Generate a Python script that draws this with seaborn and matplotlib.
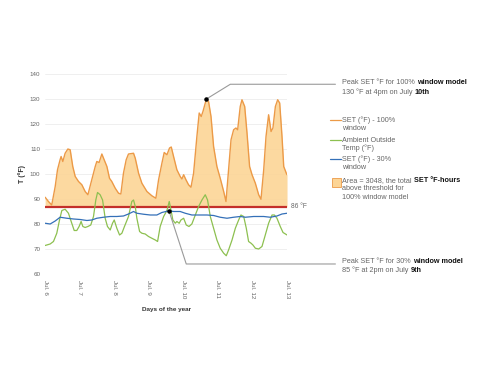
import numpy as np
import matplotlib
matplotlib.use("Agg")
import matplotlib.pyplot as plt
import matplotlib.patches as mpatches
from matplotlib.lines import Line2D
import seaborn as sns

# hours since Jul 6 00:00 and temperatures (°F)
HOURS_100 = [0, 2.3, 4.6, 7.0, 8.6, 10.4, 11.1, 12.3, 13.9, 15.8, 17.4, 19.2, 20.9, 23.2,
             25.5, 27.8, 29.7, 32.4, 34.8, 35.9, 37.5, 39.4, 41.0, 42.9, 44.7, 46.3, 48.7,
             51.0, 52.6, 54.4, 56.3, 57.9, 61.4, 62.6, 64.9, 67.2, 70.7, 74.1, 76.9, 78.8,
             81.1, 82.7, 84.6, 86.4, 87.6, 89.2, 91.5, 93.8, 95.0, 96.2, 97.8, 99.6, 101.3,
             103.1, 105.4, 107.0, 108.4, 109.6, 112.0, 113.5, 115.2, 117.0, 119.3, 121.6,
             124.0, 125.6, 127.4, 129.1, 130.9, 132.5, 133.7, 135.5, 136.7, 138.6, 140.2,
             142.0, 143.7, 146.0, 148.3, 149.9, 151.8, 153.4, 155.2, 156.9, 158.2, 159.9,
             161.5, 162.9, 164.5, 165.7, 167.5, 168]
SET_100 = [90.7, 89.0, 87.6, 95.0, 101.7, 105.7, 107.0, 105.0, 108.3, 110.0, 109.7, 103.0,
           99.0, 97.0, 95.7, 93.0, 91.7, 97.7, 103.0, 105.0, 104.6, 108.0, 105.7, 103.0, 98.3,
           97.0, 94.3, 92.3, 92.0, 100.3, 105.7, 108.0, 108.3, 106.3, 100.3, 96.3, 93.0, 91.3,
           90.3, 97.7, 104.3, 108.6, 107.7, 110.4, 110.8, 107.0, 101.7, 99.0, 98.0, 99.7,
           97.7, 95.7, 94.7, 100.3, 115.0, 124.4, 123.0, 125.0, 130.0, 129.0, 123.0, 111.0,
           103.0, 98.3, 93.0, 89.0, 101.7, 113.7, 117.7, 118.4, 117.7, 127.0, 129.7, 127.0,
           116.4, 103.0, 99.7, 96.3, 91.7, 89.9, 101.7, 115.0, 123.7, 117.0, 118.4, 127.0,
           129.7, 128.4, 115.0, 103.0, 100.3, 99.7]

HOURS_AMB = [0, 3.5, 5.8, 8.1, 10.0, 11.6, 13.9, 16.2, 18.5, 20.2, 22.0, 23.6, 25.0, 26.2,
             27.8, 29.7, 31.7, 33.6, 35.2, 36.4, 38.2, 39.9, 41.7, 43.3, 45.2, 46.8, 48.0,
             49.8, 51.7, 53.3, 55.1, 57.9, 60.2, 61.4, 62.6, 63.7, 65.6, 67.2, 69.5, 71.8,
             74.1, 76.5, 78.1, 79.9, 82.3, 84.6, 86.2, 87.4, 88.7, 90.4, 91.5, 93.1, 94.3,
             96.2, 98.0, 99.9, 101.9, 104.3, 106.6, 108.9, 111.2, 112.8, 114.7, 117.0, 119.3,
             121.6, 124.0, 125.8, 127.4, 129.8, 132.1, 134.4, 136.0, 137.9, 139.7, 141.3,
             143.0, 144.3, 146.0, 148.3, 150.6, 152.9, 155.2, 157.6, 159.2, 161.0, 163.3,
             165.2, 168]
AMBIENT = [71.4, 72.0, 73.0, 76.3, 81.6, 85.4, 85.9, 84.3, 80.3, 77.4, 77.4, 79.0, 81.0,
           79.0, 78.6, 79.0, 79.6, 83.0, 89.6, 92.6, 91.7, 89.6, 82.3, 79.0, 77.6, 80.3, 81.6,
           78.3, 75.6, 76.3, 79.0, 83.0, 89.0, 89.6, 87.0, 82.3, 77.0, 76.3, 76.0, 75.0, 74.3,
           73.6, 73.0, 79.0, 83.0, 85.4, 89.0, 85.6, 81.6, 80.3, 81.0, 80.3, 81.6, 82.3, 79.6,
           79.0, 80.0, 83.6, 87.0, 89.6, 91.7, 89.6, 83.0, 78.3, 73.6, 70.3, 68.3, 67.3, 69.6,
           73.6, 78.3, 81.6, 83.6, 83.0, 78.3, 73.0, 72.3, 71.6, 70.3, 70.0, 71.0, 75.6, 80.3,
           83.6, 83.6, 82.3, 79.0, 76.6, 75.6]

HOURS_30 = [0, 3.5, 7.0, 10.4, 15.1, 19.7, 24.3, 29.0, 32.4, 35.9, 40.5, 45.2, 49.8, 54.4,
            57.9, 61.4, 63.7, 68.4, 73.0, 77.6, 81.1, 86.0, 89.2, 93.8, 97.3, 101.9, 107.7,
            112.4, 117.0, 121.6, 126.3, 130.9, 135.5, 139.0, 144.8, 151.8, 156.4, 161.0,
            164.5, 168]
SET_30 = [80.3, 80.0, 81.2, 82.7, 82.3, 82.0, 81.8, 81.4, 81.6, 82.3, 82.7, 83.0, 83.0, 83.2,
          84.0, 85.0, 84.3, 83.9, 83.6, 83.6, 84.6, 85.3, 85.0, 85.0, 84.3, 83.6, 83.6, 83.6,
          83.4, 82.7, 82.3, 82.7, 83.0, 82.7, 83.0, 83.0, 82.7, 83.2, 84.0, 84.3]

THRESHOLD = 86.8
PEAK_100 = (112, 130)
PEAK_30 = (86, 85.3)

DAY_TICKS = [0, 24, 48, 72, 96, 120, 144, 168]
DAY_LABELS = ["Jul. 6", "Jul. 7", "Jul. 8", "Jul. 9", "Jul. 10", "Jul. 11", "Jul. 12", "Jul. 13"]
Y_TICKS = [60, 70, 80, 90, 100, 110, 120, 130, 140]

C_ORANGE = "#EC9A47"
C_FILL = "#FCD596"
C_GREEN = "#8DC050"
C_BLUE = "#3470B8"
C_RED = "#C4302B"
C_TEXT = "#666666"

sns.set_style("white")
plt.rcParams["font.family"] = ["Liberation Sans", "DejaVu Sans"]

fig = plt.figure(figsize=(4.8, 3.71), dpi=100)
ax = fig.add_axes([0.094, 0.2615, 0.504, 0.539])

h100 = np.array(HOURS_100)
s100 = np.array(SET_100)
ax.fill_between(h100, THRESHOLD, s100, where=s100 >= THRESHOLD, interpolate=True,
                color=C_FILL, alpha=0.9, lw=0, zorder=1)

for yv in Y_TICKS:
    ax.axhline(yv, color="#EDEDED", lw=0.6, zorder=0)

ax.axhline(THRESHOLD, color=C_RED, lw=1.6, zorder=2)
sns.lineplot(x=HOURS_100, y=SET_100, ax=ax, color=C_ORANGE, lw=1.0, zorder=3)
sns.lineplot(x=HOURS_AMB, y=AMBIENT, ax=ax, color=C_GREEN, lw=0.9, zorder=4)
sns.lineplot(x=HOURS_30, y=SET_30, ax=ax, color=C_BLUE, lw=0.9, zorder=5)

ax.set_xlim(0, 168)
ax.set_ylim(60, 140)
ax.set_xticks(DAY_TICKS)
ax.set_xticklabels(DAY_LABELS, rotation=-90, fontsize=4.5, color=C_TEXT)
ax.set_yticks(Y_TICKS)
ax.set_yticklabels([str(v) for v in Y_TICKS], fontsize=4.5, color=C_TEXT)
ax.tick_params(axis="both", length=0)
ax.tick_params(axis="x", pad=4.3)
ax.tick_params(axis="y", pad=3.5)
for sp in ax.spines.values():
    sp.set_visible(False)

ax.set_ylabel("T (°F)", fontsize=5, fontweight="bold", color="#333333", labelpad=3)
ax.set_xlabel("Days of the year", fontsize=4.6, fontweight="bold", color="#333333", labelpad=6)

# threshold label
ax.text(170.5, THRESHOLD, "86 °F", fontsize=4.8, color=C_TEXT, va="center", ha="left",
        clip_on=False)

# peak markers and leader lines
ax.plot([PEAK_100[0], 128.6, 201.6], [PEAK_100[1], 135.9, 135.9], color="#9A9A9A", lw=0.8,
        clip_on=False, zorder=6)
ax.plot([PEAK_30[0], 98.0, 201.6], [PEAK_30[1], 64.0, 64.0], color="#9A9A9A", lw=0.8,
        clip_on=False, zorder=6)
ax.scatter([PEAK_100[0], PEAK_30[0]], [PEAK_100[1], PEAK_30[1]], s=5, color="black", zorder=7)


def rich_line(x, y, pieces, size=5.2):
    """Write pieces of (text, bold) one after the other on a single line."""
    prev = None
    for txt, bold in pieces:
        kw = dict(fontsize=size, color="#111111" if bold else C_TEXT,
                  fontweight="bold" if bold else "normal")
        if prev is None:
            prev = fig.text(x, y, txt, va="center", ha="left", **kw)
        else:
            prev = ax.annotate(txt, xy=(1, 0), xycoords=prev, xytext=(1.4, 0),
                               textcoords="offset points", va="bottom", ha="left",
                               annotation_clip=False, **kw)
    return prev


TX = 0.7125
rich_line(TX, 0.777, [("Peak SET °F for 100%", False), ("window model", True)])
rich_line(TX, 0.752, [("130 °F at 4pm on July", False), ("10th", True)])
rich_line(TX, 0.2946, [("Peak SET °F for 30%", False), ("window model", True)])
rich_line(TX, 0.272, [("85 °F at 2pm on July", False), ("9th", True)])

# legend drawn by hand so the bold words can be mixed in
LX0, LX1 = 0.6875, 0.711
legend_rows = [
    (C_ORANGE, ["SET (°F) - 100%", "window"], 1 - 120 / 371),
    (C_GREEN, ["Ambient Outside", "Temp (°F)"], 1 - 140 / 371),
    (C_BLUE, ["SET (°F) - 30%", "window"], 1 - 159.3 / 371),
]
for col, lines, yy in legend_rows:
    fig.add_artist(Line2D([LX0, LX1], [yy, yy], color=col, lw=0.9, transform=fig.transFigure))
    for i, t in enumerate(lines):
        fig.text(0.7135, yy - i * 8.2 / 371, t, fontsize=5.2, color=C_TEXT, va="center")

py = 1 - 187.3 / 371
fig.add_artist(mpatches.Rectangle((0.691, py), 9.5 / 480, 9.5 / 371, facecolor=C_FILL,
                                  edgecolor=C_ORANGE, lw=0.6, transform=fig.transFigure))
ay = 1 - 180.7 / 371
rich_line(0.7135, ay, [("Area = 3048, the total", False), ("SET °F-hours", True)])
fig.text(0.7135, ay - 8.3 / 371, "above threshold for", fontsize=5.2, color=C_TEXT, va="center")
fig.text(0.7135, ay - 16.6 / 371, "100% window model", fontsize=5.2, color=C_TEXT, va="center")

fig.savefig("out.png", dpi=100)
